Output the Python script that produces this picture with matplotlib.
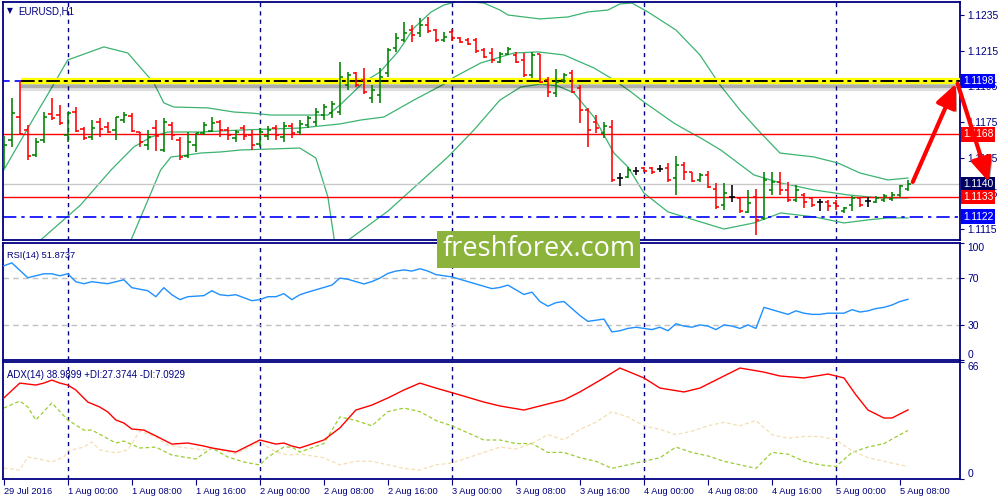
import matplotlib.pyplot as plt
from matplotlib import patheffects as pe
from matplotlib.patches import Rectangle
from matplotlib.transforms import blended_transform_factory

# EURUSD H1, bar 0 = 29 Jul 2016 16:00 (hourly, weekend skipped)
opens = [1.11593, 1.11649, 1.11778, 1.11705, 1.11565, 1.11649, 1.11795, 1.11789, 1.11677, 1.11806,
         1.11711, 1.11666, 1.11750, 1.11722, 1.11705, 1.11761, 1.11784, 1.11694, 1.11621, 1.11716,
         1.11593, 1.11733, 1.11649, 1.11559, 1.11621, 1.11688, 1.11700, 1.11750, 1.11705, 1.11660,
         1.11716, 1.11677, 1.11627, 1.11672, 1.11716, 1.11666, 1.11728, 1.11694, 1.11733, 1.11750,
         1.11789, 1.11800, 1.11806, 1.11958, 1.12025, 1.11986, 1.11885, 1.11901, 1.12025, 1.12165,
         1.12210, 1.12266, 1.12249, 1.12294, 1.12266, 1.12210, 1.12255, 1.12221, 1.12210, 1.12210,
         1.12154, 1.12137, 1.12086, 1.12131, 1.12126, 1.12098, 1.12014, 1.12131, 1.11986, 1.11913,
         1.11986, 1.12025, 1.11941, 1.11817, 1.11750, 1.11688, 1.11722, 1.11436, 1.11442, 1.11475,
         1.11492, 1.11492, 1.11487, 1.11492, 1.11436, 1.11509, 1.11470, 1.11425, 1.11453, 1.11374,
         1.11285, 1.11330, 1.11324, 1.11245, 1.11330, 1.11212, 1.11369, 1.11414, 1.11369, 1.11313,
         1.11341, 1.11324, 1.11302, 1.11302, 1.11296, 1.11251, 1.11285, 1.11324, 1.11307, 1.11302,
         1.11313, 1.11318, 1.11341, 1.11374]
highs = [1.11672, 1.11885, 1.11980, 1.11733, 1.11660, 1.11806, 1.11885, 1.11845, 1.11806, 1.11834,
         1.11722, 1.11761, 1.11772, 1.11750, 1.11778, 1.11806, 1.11800, 1.11694, 1.11705, 1.11761,
         1.11772, 1.11750, 1.11666, 1.11694, 1.11688, 1.11750, 1.11778, 1.11761, 1.11722, 1.11705,
         1.11733, 1.11705, 1.11716, 1.11728, 1.11733, 1.11750, 1.11744, 1.11761, 1.11784, 1.11829,
         1.11851, 1.11868, 1.12086, 1.12030, 1.12030, 1.12053, 1.11958, 1.12053, 1.12165, 1.12249,
         1.12311, 1.12294, 1.12333, 1.12339, 1.12272, 1.12255, 1.12272, 1.12227, 1.12221, 1.12221,
         1.12165, 1.12165, 1.12143, 1.12171, 1.12143, 1.12137, 1.12143, 1.12131, 1.12002, 1.12047,
         1.12025, 1.12042, 1.11958, 1.11829, 1.11789, 1.11750, 1.11761, 1.11464, 1.11498, 1.11498,
         1.11498, 1.11498, 1.11509, 1.11520, 1.11559, 1.11526, 1.11470, 1.11464, 1.11475, 1.11408,
         1.11408, 1.11397, 1.11330, 1.11369, 1.11374, 1.11470, 1.11470, 1.11470, 1.11414, 1.11397,
         1.11352, 1.11330, 1.11318, 1.11313, 1.11313, 1.11273, 1.11335, 1.11330, 1.11330, 1.11335,
         1.11346, 1.11358, 1.11397, 1.11425]
lows = [1.11492, 1.11610, 1.11683, 1.11537, 1.11554, 1.11632, 1.11761, 1.11733, 1.11638, 1.11694,
        1.11649, 1.11649, 1.11666, 1.11688, 1.11649, 1.11744, 1.11694, 1.11610, 1.11593, 1.11587,
        1.11582, 1.11649, 1.11537, 1.11548, 1.11582, 1.11677, 1.11694, 1.11666, 1.11649, 1.11638,
        1.11649, 1.11593, 1.11610, 1.11649, 1.11649, 1.11638, 1.11660, 1.11677, 1.11716, 1.11728,
        1.11761, 1.11772, 1.11789, 1.11929, 1.11946, 1.11907, 1.11857, 1.11857, 1.12002, 1.12143,
        1.12199, 1.12199, 1.12227, 1.12249, 1.12199, 1.12199, 1.12204, 1.12193, 1.12182, 1.12137,
        1.12109, 1.12081, 1.12081, 1.12126, 1.12081, 1.12002, 1.11997, 1.11969, 1.11890, 1.11890,
        1.11969, 1.11913, 1.11744, 1.11610, 1.11688, 1.11660, 1.11414, 1.11391, 1.11436, 1.11453,
        1.11470, 1.11459, 1.11470, 1.11414, 1.11341, 1.11425, 1.11414, 1.11414, 1.11380, 1.11262,
        1.11257, 1.11302, 1.11240, 1.11240, 1.11117, 1.11201, 1.11341, 1.11341, 1.11302, 1.11302,
        1.11268, 1.11273, 1.11251, 1.11251, 1.11257, 1.11240, 1.11251, 1.11273, 1.11273, 1.11296,
        1.11302, 1.11307, 1.11330, 1.11363]
closes = [1.11621, 1.11800, 1.11683, 1.11559, 1.11638, 1.11778, 1.11772, 1.11744, 1.11800, 1.11700,
          1.11660, 1.11716, 1.11711, 1.11694, 1.11778, 1.11789, 1.11700, 1.11638, 1.11666, 1.11672,
          1.11750, 1.11677, 1.11554, 1.11638, 1.11688, 1.11733, 1.11744, 1.11705, 1.11677, 1.11694,
          1.11672, 1.11621, 1.11694, 1.11705, 1.11677, 1.11728, 1.11688, 1.11739, 1.11772, 1.11806,
          1.11834, 1.11851, 1.12002, 1.12014, 1.11958, 1.11918, 1.11929, 1.12002, 1.12154, 1.12221,
          1.12249, 1.12238, 1.12294, 1.12260, 1.12210, 1.12227, 1.12221, 1.12199, 1.12187, 1.12148,
          1.12115, 1.12098, 1.12131, 1.12159, 1.12086, 1.12014, 1.12126, 1.11974, 1.11918, 1.11974,
          1.12014, 1.11918, 1.11817, 1.11705, 1.11716, 1.11728, 1.11425, 1.11436, 1.11481, 1.11475,
          1.11475, 1.11470, 1.11487, 1.11425, 1.11509, 1.11470, 1.11419, 1.11453, 1.11386, 1.11273,
          1.11352, 1.11330, 1.11251, 1.11296, 1.11201, 1.11425, 1.11414, 1.11369, 1.11313, 1.11369,
          1.11302, 1.11285, 1.11302, 1.11279, 1.11279, 1.11268, 1.11324, 1.11285, 1.11307, 1.11324,
          1.11335, 1.11341, 1.11391, 1.11402]

# Bollinger bands: (bar index, price)
bb_up_x = [0, 3.6, 5.6, 8, 12.5, 15.5, 18.75, 20, 21.25, 25.5, 28.75, 31, 33.4, 37, 40.5, 42, 45, 47,
           49.25, 51.25, 53.4, 55, 57, 60, 62, 63, 67, 70.5, 73, 75.5, 77, 78.5, 80.5, 84, 87, 89.5,
           92, 94.25, 97, 101.25, 104.25, 107, 110.5, 113]
bb_up = [1.11481, 1.11761, 1.11913, 1.12098, 1.12171, 1.12137, 1.11969, 1.11857, 1.11834, 1.11829,
         1.11806, 1.11800, 1.11789, 1.11789, 1.11789, 1.11845, 1.11974, 1.12030, 1.12143, 1.12277,
         1.12367, 1.12406, 1.12429, 1.12417, 1.12378, 1.12350, 1.12328, 1.12339, 1.12367, 1.12378,
         1.12412, 1.12417, 1.12367, 1.12266, 1.12126, 1.11958, 1.11817, 1.11705, 1.11576, 1.11554,
         1.11520, 1.11464, 1.11425, 1.11436]
bb_mid_x = [4.6, 9.6, 13.4, 16.25, 18.4, 20.5, 24.6, 29.6, 37, 42, 44.6, 47.5, 51.25, 55.5, 56.1, 59.6,
            63.75, 66.75, 70, 73.75, 76.25, 78.4, 80, 83.75, 85.25, 87.1, 89.6, 93.75, 97.1, 101.25,
            105.5, 109.6, 113]
bb_mid = [1.11088, 1.11285, 1.11481, 1.11610, 1.11666, 1.11694, 1.11694, 1.11705, 1.11716, 1.11739,
          1.11761, 1.11778, 1.11873, 1.11974, 1.11997, 1.12081, 1.12137, 1.12143, 1.12126, 1.12053,
          1.11986, 1.11918, 1.11862, 1.11744, 1.11705, 1.11660, 1.11593, 1.11453, 1.11408, 1.11369,
          1.11341, 1.11324, 1.11324]
bb_low_x = [15.9, 19.6, 20.9, 23, 24.6, 27.1, 29.6, 37, 39, 40.5, 41.4, 42.2, 48, 55.5, 58.75, 62, 64.6,
            67.1, 69.25, 71.25, 73.75, 76.25, 78, 80, 83, 86.25, 90, 93.75, 97.1, 101.25, 105, 108,
            110.5, 113]
bb_low = [1.11088, 1.11481, 1.11554, 1.11565, 1.11576, 1.11582, 1.11593, 1.11604, 1.11548, 1.11330,
          1.11060, 1.11060, 1.11250, 1.11554, 1.11705, 1.11873, 1.11946, 1.11963, 1.11952, 1.11913,
          1.11778, 1.11576, 1.11498, 1.11352, 1.11246, 1.11201, 1.11150, 1.11184, 1.11240, 1.11218,
          1.11184, 1.11201, 1.11212, 1.11212]

# RSI(14)
rsi_x = [0, 1, 3, 5, 6, 7, 8, 9, 10, 11, 13, 15, 16, 18, 19, 20, 21, 22, 23, 25, 26, 27, 28, 29, 31,
         32, 33, 34, 35, 36, 37, 38, 39, 40, 41, 42, 43, 44, 45, 46, 47, 48, 49, 50, 51, 52, 53, 54,
         55, 56, 57, 58, 59, 60, 61, 62, 63, 64, 65, 66, 67, 68, 69, 70, 71, 72, 73, 74, 75, 76, 77,
         78, 79, 80, 81, 82, 83, 84, 85, 86, 87, 88, 89, 90, 91, 92, 93, 94, 95, 96, 97, 98, 99, 100,
         101, 102, 103, 104, 105, 106, 107, 108, 109, 110, 111, 112, 113]
rsi = [80.5, 83, 70.3, 73.7, 73.7, 72, 73.7, 66.9, 65.2, 66.9, 65.2, 68.6, 61.8, 59.2, 54.1, 61.8, 55.8,
       51.6, 54.1, 55, 59.2, 55.8, 55, 55.8, 50.7, 51.6, 54.1, 54.1, 56.7, 51.6, 55.8, 58, 60, 62, 64,
       70, 69, 67, 65, 67, 70, 74, 76, 77, 76, 78, 76, 73, 72, 71, 69, 67, 65, 63, 61, 62, 64, 60, 56,
       58, 50, 46, 49, 50, 44, 38, 33, 34, 35, 24, 25, 27, 28, 27, 26, 28, 25, 31, 29, 28, 30, 29, 26,
       30, 29, 27, 30, 27, 45, 43, 41, 39, 42, 40, 39, 39, 40, 40, 40, 43, 41, 42, 44, 45, 47, 50, 51.9]

# ADX(14) with +DI / -DI
adx_x = [0, 2, 4, 5, 6, 7, 8, 9, 10.5, 12, 13, 14, 15, 16, 17.5, 19, 21, 23, 25, 26, 29, 30.5, 32, 34,
         35, 36, 37, 40, 42, 44, 46, 48, 50, 52, 54, 57, 60, 62, 65, 67, 70, 72, 75, 77, 80, 82, 85,
         87, 90, 92, 95, 97, 100, 103, 105, 106.5, 108, 110, 111, 113]
adx = [45.7, 54.1, 53, 54.1, 55.8, 54.1, 53, 50.2, 43.4, 40.6, 37.8, 33.3, 31.6, 28.2, 27.6, 24.3,
       19.7, 20.3, 18.6, 17.5, 15.2, 18.6, 22, 19.7, 20.3, 18.6, 17.5, 22, 28.8, 38.9, 41.7, 45.7,
       50.2, 54.1, 51.3, 47.4, 43.4, 41.2, 38.9, 41.2, 44.6, 49.1, 57, 62.6, 57, 51.3, 49.1, 51.3,
       58.1, 62.6, 60.3, 58.1, 57, 59.2, 57, 47.4, 38.9, 34.4, 34.4, 38.99]
pdi_x = [0, 2, 3, 4, 6, 8, 10, 11, 14, 15, 17, 19, 21, 24, 26, 28, 30, 32, 33, 35, 36, 37, 40, 42, 44,
         46, 48, 50, 52, 54, 56, 58, 60, 62, 64, 66, 68, 70, 72, 74, 76, 78, 80, 82, 84, 86, 88, 90,
         92, 94, 96, 98, 100, 102, 104, 106, 108, 110, 112, 113]
pdi = [40, 44, 40.6, 33.3, 42.9, 33.3, 27.6, 27.6, 20.3, 21.4, 17.5, 18, 13.5, 11.3, 17.5, 12.4, 9.6,
       7.9, 12.4, 18, 18, 15.2, 20, 35, 33, 30, 38, 40, 38, 33, 30, 26, 22, 22, 20, 20, 15, 15, 12,
       10, 6, 8, 10, 12, 18, 15, 13, 10, 8, 6, 15, 14, 10, 8, 7, 15, 18, 20, 25, 27.37]
mdi_x = [0, 2, 3, 5, 6, 7.5, 8, 10, 11, 12, 14, 15.5, 17, 19, 20.5, 22, 25, 26, 29, 30.5, 32, 34, 35.5,
         37, 40, 42, 44, 46, 48, 50, 52, 54, 56, 58, 60, 62, 64, 66, 68, 70, 72, 74, 76, 78, 80, 82,
         84, 86, 88, 90, 92, 94, 96, 98, 100, 102, 104, 106, 108, 110, 112, 113]
mdi = [6.2, 5.1, 12.4, 10.7, 9.6, 12.4, 15.8, 18, 20.9, 16.4, 14.7, 16.4, 27.1, 23.7, 19.2, 18, 16.4,
       17.5, 14.1, 17.5, 20.9, 15.2, 13.5, 14.1, 12, 8, 10, 10, 8, 6, 5, 8, 9, 12, 15, 18, 17, 20, 25,
       22, 28, 32, 38, 35, 30, 28, 25, 27, 30, 32, 30, 33, 25, 23, 24, 24, 22, 16, 12, 10, 8, 7.09]

xtick_pos = [0, 8, 16, 24, 32, 40, 48, 56, 64, 72, 80, 88, 96, 104, 112]
xtick_labels = ["29 Jul 2016", "1 Aug 00:00", "1 Aug 08:00", "1 Aug 16:00", "2 Aug 00:00",
                "2 Aug 08:00", "2 Aug 16:00", "3 Aug 00:00", "3 Aug 08:00", "3 Aug 16:00",
                "4 Aug 00:00", "4 Aug 08:00", "4 Aug 16:00", "5 Aug 00:00", "5 Aug 08:00"]
day_starts = [8, 32, 56, 80, 104]
price_ticks = [1.1115, 1.1135, 1.1155, 1.1175, 1.1195, 1.1215, 1.1235]

NAVY = "#000080"
FS = 6.7      # labels inside panels and time axis
FS_Y = 7.4    # right-hand price scale
plt.rcParams["font.family"] = ["Liberation Sans", "DejaVu Sans"]

fig = plt.figure(figsize=(10, 5), dpi=100)
xlim = (-0.1, 119.5)
ax1 = fig.add_axes([0.003, 1 - 240 / 500, 0.957, 238 / 500])
ax2 = fig.add_axes([0.003, 1 - 360 / 500, 0.957, 117 / 500])
ax3 = fig.add_axes([0.003, 1 - 479 / 500, 0.957, 117 / 500])

for ax in (ax1, ax2, ax3):
    ax.set_xlim(*xlim)
    for s in ax.spines.values():
        s.set_color(NAVY)
        s.set_linewidth(1.3)
    ax.yaxis.tick_right()
    ax.tick_params(axis="y", colors=NAVY, labelsize=FS_Y, length=3, width=0.8, pad=2.5)
    ax.tick_params(axis="x", colors=NAVY, length=0)
    ax.set_xticks([])
    for d in day_starts:
        ax.axvline(d, color=NAVY, lw=1.0, ls=(0, (3, 3)), zorder=1)

# ---- main price panel
ax1.set_ylim(1.110883, 1.124229)
ax1.set_yticks(price_ticks)
ax1.set_yticklabels([f"{p:.4f}" for p in price_ticks])

ax1.plot(bb_up_x, bb_up, color="#3cb371", lw=0.9, zorder=2)
ax1.plot(bb_mid_x, bb_mid, color="#3cb371", lw=0.9, zorder=2)
ax1.plot(bb_low_x, bb_low, color="#3cb371", lw=0.9, zorder=2)

ax1.axhline(1.1168, color="#ff0000", lw=1.0, zorder=2)
ax1.axhline(1.1133, color="#ff0000", lw=1.0, zorder=2)
ax1.axhline(1.1140, color="#c8c8c8", lw=1.0, zorder=2)
ax1.axhline(1.1122, color="#0000ff", lw=1.2, ls=(0, (8, 3, 2, 3)), zorder=2)
ax1.axhline(1.1198, color="#0000ff", lw=1.2, ls=(0, (4, 3)), zorder=2)
ax1.plot([2.1, xlim[1]], [1.1198, 1.1198], color="#ffff00", lw=4.5, solid_capstyle="butt", zorder=3,
         path_effects=[pe.SimpleLineShadow(offset=(0, -5), shadow_color="black", alpha=0.12),
                       pe.SimpleLineShadow(offset=(0, -3), shadow_color="black", alpha=0.22),
                       pe.Normal()])
ax1.plot([2.1, xlim[1]], [1.1198, 1.1198], color="black", lw=1.4, ls=(0, (7, 2, 2, 2)), zorder=4)

for i, (o, h, l, c) in enumerate(zip(opens, highs, lows, closes)):
    col = "#008000" if c > o else ("#ff0000" if c < o else "black")
    ax1.vlines(i, l, h, color=col, lw=1.15, zorder=5)
    ax1.hlines(o, i - 0.42, i, color=col, lw=1.15, zorder=5)
    ax1.hlines(c, i, i + 0.42, color=col, lw=1.15, zorder=5)

ytr = blended_transform_factory(ax1.transAxes, ax1.transData)
for lvl, fc in [(1.1198, "#0000ff"), (1.1168, "#ff0000"), (1.1140, "#000060"),
                (1.1133, "#ff0000"), (1.1122, "#0000ff")]:
    ax1.text(1.003, lvl, f"{lvl:.4f}", transform=ytr, color="white", fontsize=FS_Y, va="center",
             ha="left", zorder=10, clip_on=False,
             bbox=dict(boxstyle="square,pad=0.2", fc=fc, ec="none"))

fig.text(0.007, 1 - 11 / 500, "\u25bc", color=NAVY, fontsize=5.5, va="center",
         family="DejaVu Sans")
fig.text(0.018, 1 - 11 / 500, "EURUSD,H1", color=NAVY, fontsize=FS + 0.3, va="center")

# arrows drawn on top of everything
arrow_fx = [pe.SimplePatchShadow(offset=(2, -2), shadow_rgbFace="black", alpha=0.35), pe.Normal()]
ax1.annotate("", xy=(119.0, 1.11965), xytext=(113.6, 1.11414), annotation_clip=False,
             arrowprops=dict(arrowstyle="-|>,head_length=1.0,head_width=0.45", color="#ff0000",
                             lw=3, mutation_scale=14, shrinkA=0, shrinkB=0, path_effects=arrow_fx),
             zorder=12)
ax1.annotate("", xy=(123.1, 1.11414), xytext=(119.2, 1.11965), annotation_clip=False,
             arrowprops=dict(arrowstyle="-|>,head_length=1.0,head_width=0.45", color="#ff0000",
                             lw=3, mutation_scale=14, shrinkA=0, shrinkB=0, path_effects=arrow_fx),
             zorder=12)

# ---- RSI panel
ax2.set_ylim(0, 100)
ax2.axhline(70, color="#c0c0c0", lw=1.0, ls=(0, (4, 3)), zorder=1)
ax2.axhline(30, color="#c0c0c0", lw=1.0, ls=(0, (4, 3)), zorder=1)
ax2.plot(rsi_x, rsi, color="#1e90ff", lw=1.0, zorder=3)
ax2.set_yticks([0, 30, 70, 100])
ax2.set_yticklabels(["0", "30", "70", "100"])
lbls = ax2.get_yticklabels()
lbls[0].set_va("bottom")
lbls[3].set_va("top")
ax2.text(0.004, 0.93, "RSI(14) 51.8737", transform=ax2.transAxes, color=NAVY, fontsize=FS, va="top")

# ---- ADX panel
ax3.set_ylim(0, 66.0)
ax3.plot(pdi_x, pdi, color="#9acd32", lw=0.9, ls=(0, (3, 2)), zorder=2)
ax3.plot(mdi_x, mdi, color="#f5deb3", lw=0.9, ls=(0, (3, 2)), zorder=2)
ax3.plot(adx_x, adx, color="#ff0000", lw=1.0, zorder=3)
ax3.set_yticks([0, 66])
ax3.set_yticklabels(["0", "66"])
lbls = ax3.get_yticklabels()
lbls[0].set_va("bottom")
lbls[1].set_va("top")
ax3.text(0.004, 0.93, "ADX(14) 38.9899 +DI:27.3744 -DI:7.0929", transform=ax3.transAxes,
         color=NAVY, fontsize=FS + 0.2, va="top")
ax3.set_xticks(xtick_pos)
ax3.set_xticklabels(xtick_labels)
ax3.tick_params(axis="x", colors=NAVY, labelsize=FS, length=4, width=0.8, direction="out", pad=2)
for t in ax3.get_xticklabels():
    t.set_ha("left")

# watermark
fig.patches.append(Rectangle((0.437, 1 - 268 / 500), 0.203, 37 / 500, transform=fig.transFigure,
                             fc="#8cb43c", ec="none", zorder=20))
fig.text(0.5395, 1 - 249 / 500, "freshforex.com", color="white", fontsize=19.5, ha="center",
         va="center", zorder=21, family="Open Sans")

fig.savefig("out.png", dpi=100)
